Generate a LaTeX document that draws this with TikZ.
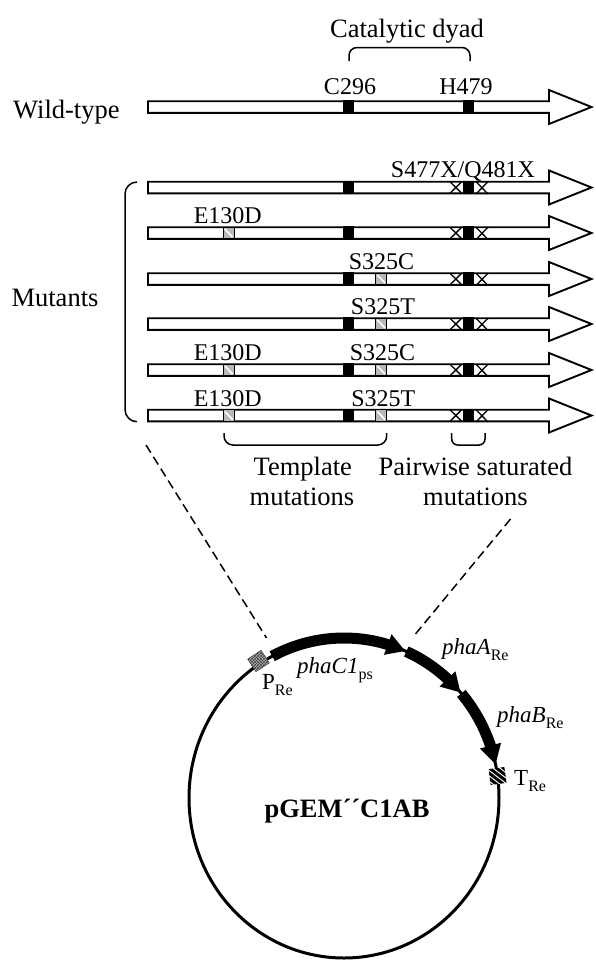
\documentclass[tikz,border=0pt]{standalone}
\usepackage{fontspec}
\setmainfont{Liberation Serif}
\usetikzlibrary{calc,patterns}
\newcommand\mysub[1]{\raisebox{-0.28em}{\fontsize{16}{16}\selectfont #1}}
\newcommand\rowarrow[1]{\draw[genebar] (148,#1-5.8) -- (549,#1-5.8) -- (549,#1-17) -- (591.5,#1) -- (549,#1+17) -- (549,#1+5.8) -- (148,#1+5.8) -- cycle;}
\newcommand\blk[2]{\fill (#1,#2-6.6) rectangle ++(11.6,13.2);}
\newcommand\hblk[2]{\draw[hatchbox] (#1,#2-5.8) rectangle ++(11.3,11.6); \draw[white,line width=1.6] (#1+1.8,#2-4) -- (#1+9.5,#2+4);}
\newcommand\xmarks[1]{\draw[xmark] (450,#1-5.8) -- (461.7,#1+5.8) (450,#1+5.8) -- (461.7,#1-5.8) (476,#1-5.8) -- (488,#1+6.5) (476,#1+6.5) -- (488,#1-5.8);}
\begin{document}
\begin{tikzpicture}[x=1pt,y=-1pt,
  genebar/.style={draw, line width=1.9, fill=white, line join=miter},
  hatchbox/.style={draw, line width=0.8, fill=gray!55},
  xmark/.style={line width=1.3},
  brace/.style={line width=1.5},
  big/.style={inner sep=0, anchor=base, font=\fontsize{26.5}{30}\selectfont},
  lab/.style={inner sep=0, anchor=base, font=\fontsize{24}{26}\selectfont},
  plab/.style={inner sep=0, anchor=base west, font=\fontsize{23}{26}\selectfont},
  band/.style={line width=11, line cap=butt},
  dashline/.style={line width=1.5, dash pattern=on 9pt off 5pt}]
\useasboundingbox (0,0) rectangle (596,962);

% ---------- wild type ----------
\node[big, anchor=base west] (wt) at (13,118.5) {Wild-type};
\node[big] (cd) at (407,37) {Catalytic dyad};
\draw[brace, rounded corners=8] (349,61) -- (349,47.5) -- (470,47.5) -- (470,61);
\rowarrow{107}
\blk{342.7}{107}
\blk{462.5}{107}
\node[lab] (c296) at (350,94.3) {C296};
\node[lab] (h479) at (466,94.3) {H479};

% ---------- mutants ----------
\node[big] (mut) at (55,306) {Mutants};
\draw[brace, rounded corners=12] (137,182) -- (125,182) -- (125,421.7) -- (137,421.7);

\foreach \c in {187.5,233,279,324,370,415.5}{
  \rowarrow{\c}
  \blk{342.7}{\c}
  \blk{462.5}{\c}
  \xmarks{\c}
}
\node[lab] (m1) at (463,177.5) {S477X/Q481X};

\hblk{223}{233}
\node[lab] (m2) at (227.8,223.5) {E130D};

\hblk{375.5}{279}
\node[lab] (m3) at (381.5,269.5) {S325C};

\hblk{375.5}{324}
\node[lab] (m4) at (383,314.5) {S325T};

\hblk{223}{370}
\hblk{375.5}{370}
\node[lab] (m5a) at (227.8,360.5) {E130D};
\node[lab] (m5b) at (382.5,360.5) {S325C};

\hblk{223}{415.5}
\hblk{375.5}{415.5}
\node[lab] (m6a) at (227.8,406) {E130D};
\node[lab] (m6b) at (383.3,406) {S325T};

% ---------- lower braces ----------
\draw[brace, rounded corners=9] (224,433) -- (224,445) -- (386.7,445) -- (386.7,433);
\draw[brace, rounded corners=6] (451.7,433) -- (451.7,445) -- (485,445) -- (485,433);
\node[big] (tm1) at (302.8,475) {Template};
\node[big] (tm2) at (302,505) {mutations};
\node[big] (ps1) at (475.5,475) {Pairwise saturated};
\node[big] (ps2) at (475.5,505) {mutations};

% ---------- dashed lines ----------
\coordinate (dl1) at (146,445);
\coordinate (dl2) at (266.5,638);
\coordinate (dr1) at (510.5,519);
\coordinate (dr2) at (413,637);
\draw[dashline] (dl1) -- (dl2);
\draw[dashline] (dr1) -- (dr2);

% ---------- plasmid ----------
\draw[line width=3] (344,798) ellipse [x radius=155, y radius=160];

% phaC1
\draw[band] plot[domain=-117.6:-73, samples=60] ({344+155*cos(\x)},{798+160*sin(\x)});
% phaA
\draw[band] plot[domain=-66.3:-47.5, samples=40] ({344+155*cos(\x)},{798+160*sin(\x)});
% phaB
\draw[band] plot[domain=-40.8:-18.5, samples=40] ({344+155*cos(\x)},{798+160*sin(\x)});

\foreach \b/\t [count=\i] in {-73.6/-66.8, -48.1/-41.3, -19.1/-12.2}{
  \coordinate (hb\i) at ({344+155*cos(\b)},{798+160*sin(\b)});
  \coordinate (ht\i) at ({344+155*cos(\t)},{798+160*sin(\t)});
  \fill (ht\i) -- ($(hb\i)!11pt!90:(ht\i)$) -- ($(hb\i)!11pt!-90:(ht\i)$) -- cycle;
}

% promoter box
\begin{scope}[shift={(258.5,661)}, rotate=33.6]
  \fill[gray!60] (-8,-7.5) rectangle (8,7.5);
  \fill[pattern=crosshatch, pattern color=gray!50!black] (-8,-7.5) rectangle (8,7.5);
  \draw[gray!50!black, line width=0.5] (-8,-7.5) rectangle (8,7.5);
\end{scope}

% terminator box
\begin{scope}[shift={(497.5,776)}, rotate=7.7]
  \fill[white] (-8,-8) rectangle (8,8);
  \clip (-8,-8) rectangle (8,8);
  \foreach \k in {-16,-10,...,16}
    \draw[line width=3] (\k-10,-10) -- (\k+10,10);
\end{scope}

\node[plab] (pre) at (262,689) {P\mysub{Re}};
\node[plab] (c1) at (297,673) {\itshape phaC1\upshape\mysub{ps}};
\node[plab] (pa) at (442,654) {\itshape phaA\upshape\mysub{Re}};
\node[plab] (pb) at (497,722) {\itshape phaB\upshape\mysub{Re}};
\node[plab] (tre) at (514,785) {T\mysub{Re}};
\node[big] (pgem) at (347,817) {\bfseries pGEM´´C1AB};
\end{tikzpicture}
\end{document}
